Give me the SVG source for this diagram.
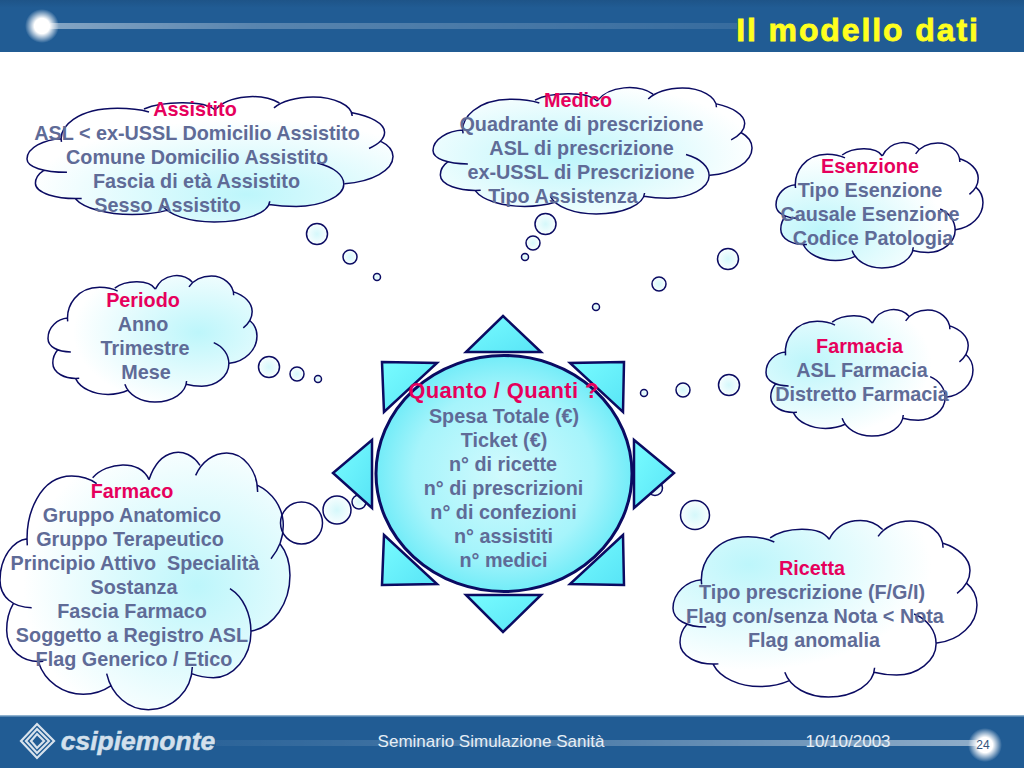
<svg xmlns="http://www.w3.org/2000/svg" width="1024" height="768" viewBox="0 0 1024 768">
<style>
text{font-family:"Liberation Sans",Arial,sans-serif;font-weight:bold;text-anchor:middle;font-size:19.800px;fill:#5f6b97}
text.h{fill:#e6005c}
.cs{fill:none;stroke:#0b0b62;stroke-width:1.5}
.b{fill:url(#bub);stroke:#0b0b62;stroke-width:1.5}
.t{fill:url(#tri);stroke:#0b0b62;stroke-width:2.5;stroke-linejoin:miter}
.foot{font-weight:normal;fill:#e6eef6;font-size:17px}
</style>
<defs>
<path id="cloudFill" d="M82,295C75,220 120,107 215,107C245,107 265,112 278,112C320,65 420,55 447,118C480,20 560,15 600,75L587,105C605,65 640,38 680,38C730,38 773,90 773,155L773,135C815,155 850,200 850,255C850,300 830,335 813,355L840,310C860,335 870,370 870,405C870,490 820,560 755,572L753,575C753,650 700,712 640,712C615,712 595,708 575,700L577,680C575,750 520,808 445,808C385,808 335,765 320,700L335,735C310,752 280,762 250,762C190,762 135,725 115,665L130,663C70,670 20,630 20,570C20,535 28,510 40,490L95,502C40,502 0,470 0,420C0,350 40,300 82,295Z"/>
<path id="cloudLine" vector-effect="non-scaling-stroke" d="M82,315C75,220 120,107 215,107C245,107 270,115 290,130M278,112C320,65 420,55 447,118M447,118C480,20 560,15 600,75M587,105C605,65 640,38 680,38C730,38 773,90 773,155M773,135C815,155 850,200 850,255C850,300 830,335 813,355M840,310C860,335 870,370 870,405C870,490 820,560 755,572M690,445C730,470 753,520 753,575C753,650 700,712 640,712C615,712 595,708 575,700M577,680C575,750 520,808 445,808C385,808 335,765 320,700M335,735C310,752 280,762 250,762C190,762 135,725 115,665M130,663C70,670 20,630 20,570C20,535 28,510 40,490M95,502C40,502 0,470 0,420C0,350 40,300 82,295"/>
<radialGradient id="g0" cx=".55" cy=".55" r=".6"><stop offset="0" stop-color="#bdf6fb"/><stop offset="1" stop-color="#fff"/></radialGradient>
<radialGradient id="gAss" href="#g0" cx=".6" cy=".78"/>
<radialGradient id="gMed" href="#g0" cx=".42" cy=".55"/>
<radialGradient id="gEse" href="#g0" cx=".22" cy=".7"/>
<radialGradient id="gFar" href="#g0" cx=".2" cy=".42"/>
<radialGradient id="gRic" href="#g0" cx=".25" cy=".25"/>
<radialGradient id="gPer" href="#g0" cx=".72" cy=".45"/>
<radialGradient id="gFco" href="#g0" cx=".68" cy=".52"/>
<radialGradient id="bub" cx=".5" cy=".5" r=".6"><stop offset="0" stop-color="#d5f8fb"/><stop offset="1" stop-color="#fff"/></radialGradient>
<radialGradient id="core2" cx=".5" cy=".5" r=".5"><stop offset="0" stop-color="#d2fafd"/><stop offset=".7" stop-color="#a6f4fb"/><stop offset="1" stop-color="#72ecf8"/></radialGradient>
<linearGradient id="tri" x1="0" y1="0" x2="1" y2="1"><stop offset="0" stop-color="#78fcff"/><stop offset="1" stop-color="#58e4f6"/></linearGradient>
<linearGradient id="bar" x1="0" y1="0" x2="0" y2="1"><stop offset="0" stop-color="#1e5488"/><stop offset=".15" stop-color="#215c94"/><stop offset="1" stop-color="#215c94"/></linearGradient>
<linearGradient id="ln1" x1="0" y1="0" x2="1" y2="0"><stop offset="0" stop-color="#fff" stop-opacity=".45"/><stop offset=".3" stop-color="#fff" stop-opacity=".25"/><stop offset="1" stop-color="#fff" stop-opacity=".1"/></linearGradient>
<linearGradient id="ln2" x1="0" y1="0" x2="1" y2="0"><stop offset="0" stop-color="#fff" stop-opacity=".05"/><stop offset=".5" stop-color="#fff" stop-opacity=".22"/><stop offset="1" stop-color="#fff" stop-opacity=".5"/></linearGradient>
<radialGradient id="glow" cx=".5" cy=".5" r=".5"><stop offset="0" stop-color="#fff"/><stop offset=".45" stop-color="#fff"/><stop offset="1" stop-color="#fff" stop-opacity="0"/></radialGradient>
</defs>
<rect width="1024" height="768" fill="#fff"/>
<g id="header">
<rect width="1024" height="52" fill="url(#bar)"/>
<rect x="50" y="23" width="687" height="6" fill="url(#ln1)"/>
<circle cx="42" cy="26" r="17" fill="url(#glow)"/>
<text x="858" y="41" style="font-size:32px;letter-spacing:1.9px;fill:#ffff1e;stroke:#ffff1e;stroke-width:.8">Il modello dati</text>
</g>
<g id="footer">
<rect y="715" width="1024" height="53" fill="#215c94"/>
<rect y="715" width="1024" height="1.5" fill="#8fb2cf"/>
<rect x="216" y="740" width="765" height="6" fill="url(#ln2)"/>
<g fill="none" stroke="#d8e2ec" stroke-width="2.200">
<path d="M37,724L54,741L37,758L21,741Z"/><path d="M37,729L49,741L37,753L26,741Z"/><path d="M37,734L44,741L37,748L31,741Z"/>
</g>
<text x="138" y="750" style="font-size:26.500px;font-style:italic;fill:#d3e0ec;stroke:#d3e0ec;stroke-width:.5">csipiemonte</text>
<text x="491" y="747"><tspan class="foot">Seminario Simulazione Sanità</tspan></text>
<text x="848" y="747"><tspan class="foot">10/10/2003</tspan></text>
<circle cx="985" cy="745" r="17" fill="url(#glow)"/>
<text x="983" y="749" style="font-size:12px;font-weight:normal;fill:#34557c">24</text>
</g>
<g id="node-assistito">
<use href="#cloudFill" fill="url(#gAss)" transform="translate(27,97) scale(.4207,.1623) translate(0,-38)"/>
<use href="#cloudLine" class="cs" transform="translate(27,97) scale(.4207,.1623) translate(0,-38)"/>
<text class="h" x="195" y="116">Assistito</text>
<text x="197" y="140">ASL &lt; ex-USSL Domicilio Assistito</text>
<text x="197" y="164">Comune Domicilio Assistito</text>
<text x="196.500" y="188">Fascia di età Assistito</text>
<text x="167.500" y="212">Sesso Assistito</text>
</g>
<g id="node-medico">
<use href="#cloudFill" fill="url(#gMed)" transform="translate(433,88) scale(.3667,.1636) translate(0,-38)"/>
<use href="#cloudLine" class="cs" transform="translate(433,88) scale(.3667,.1636) translate(0,-38)"/>
<text class="h" x="578" y="107">Medico</text>
<text x="581.500" y="131">Quadrante di prescrizione</text>
<text x="581.500" y="155">ASL di prescrizione</text>
<text x="581" y="179">ex-USSL di Prescrizione</text>
<text x="563" y="203">Tipo Assistenza</text>
</g>
<g id="node-esenzione">
<use href="#cloudFill" fill="url(#gEse)" transform="translate(776,143) scale(.2379,.1623) translate(0,-38)"/>
<use href="#cloudLine" class="cs" transform="translate(776,143) scale(.2379,.1623) translate(0,-38)"/>
<text class="h" x="870" y="173">Esenzione</text>
<text x="870" y="197">Tipo Esenzione</text>
<text x="870" y="221">Causale Esenzione</text>
<text x="873" y="245">Codice Patologia</text>
</g>
<g id="node-periodo">
<use href="#cloudFill" fill="url(#gPer)" transform="translate(48,276) scale(.2402,.1636) translate(0,-38)"/>
<use href="#cloudLine" class="cs" transform="translate(48,276) scale(.2402,.1636) translate(0,-38)"/>
<text class="h" x="143" y="307">Periodo</text>
<text x="143" y="331">Anno</text>
<text x="145" y="355">Trimestre</text>
<text x="146" y="379">Mese</text>
</g>
<g id="node-farmacia">
<use href="#cloudFill" fill="url(#gFar)" transform="translate(766,310) scale(.2379,.1636) translate(0,-38)"/>
<use href="#cloudLine" class="cs" transform="translate(766,310) scale(.2379,.1636) translate(0,-38)"/>
<text class="h" x="859.500" y="353">Farmacia</text>
<text x="862" y="377">ASL Farmacia</text>
<text x="862" y="401">Distretto Farmacia</text>
</g>
<g id="node-ricetta">
<use href="#cloudFill" fill="url(#gRic)" transform="translate(673,521) scale(.3494,.2286) translate(0,-38)"/>
<use href="#cloudLine" class="cs" transform="translate(673,521) scale(.3494,.2286) translate(0,-38)"/>
<text class="h" x="812" y="575">Ricetta</text>
<text x="812" y="599">Tipo prescrizione (F/G/I)</text>
<text x="815" y="623">Flag con/senza Nota &lt; Nota</text>
<text x="814" y="647">Flag anomalia</text>
</g>
<g id="node-farmaco">
<use href="#cloudFill" fill="url(#gFco)" transform="translate(0,453) scale(.3333,.3333) translate(0,-38)"/>
<use href="#cloudLine" class="cs" transform="translate(0,453) scale(.3333,.3333) translate(0,-38)"/>
<text class="h" x="132" y="498">Farmaco</text>
<text x="132" y="522">Gruppo Anatomico</text>
<text x="130" y="546">Gruppo Terapeutico</text>
<text x="135" y="570" xml:space="preserve">Principio Attivo  Specialità</text>
<text x="134" y="594">Sostanza</text>
<text x="132" y="618">Fascia Farmaco</text>
<text x="132" y="642">Soggetto a Registro ASL</text>
<text x="134" y="666">Flag Generico / Etico</text>
</g>
<g id="connectors">
<circle class="b" cx="317" cy="234" r="10.500"/><circle class="b" cx="350" cy="257" r="7"/><circle class="b" cx="377" cy="277" r="3.500"/>
<circle class="b" cx="545.500" cy="224" r="10.500"/><circle class="b" cx="533" cy="243" r="7"/><circle class="b" cx="525" cy="257" r="3.500"/>
<circle class="b" cx="728" cy="259" r="10.500"/><circle class="b" cx="659" cy="284" r="7"/><circle class="b" cx="596" cy="307" r="3.500"/>
<circle class="b" cx="729" cy="385" r="10.500"/><circle class="b" cx="683" cy="390" r="7"/><circle class="b" cx="644" cy="393" r="3.500"/>
<circle class="b" cx="695" cy="515" r="14.500"/><circle class="b" cx="655" cy="488" r="7.500"/>
<circle class="b" cx="301.500" cy="523" r="21" style="fill:none"/><circle class="b" cx="337" cy="510" r="14"/><circle class="b" cx="359" cy="502" r="7"/>
<circle class="b" cx="269" cy="367" r="10.500"/><circle class="b" cx="297" cy="374" r="7"/><circle class="b" cx="318" cy="379" r="3.500"/>
</g>
<g id="node-quanto">
<polygon class="t" points="503,316 541,352 466,352"/>
<polygon class="t" points="466,595 541,595 503,632"/>
<polygon class="t" points="372,440 372,508 333,473"/>
<polygon class="t" points="634,440 634,508 674,473"/>
<polygon class="t" points="382,362 437,363 384,412"/>
<polygon class="t" points="624,362 570,363 623,412"/>
<polygon class="t" points="384,535 437,584 382,585"/>
<polygon class="t" points="623,535 570,584 624,585"/>
<ellipse cx="504" cy="473.500" rx="128" ry="118" fill="url(#core2)" stroke="#0b0b62" stroke-width="3"/>
<text class="h" x="503.500" y="398" style="font-size:22px;letter-spacing:.35px">Quanto / Quanti ?</text>
<text x="504" y="423">Spesa Totale (€)</text>
<text x="504" y="447">Ticket (€)</text>
<text x="503" y="471">n° di ricette</text>
<text x="503.500" y="495">n° di prescrizioni</text>
<text x="503.500" y="519">n° di confezioni</text>
<text x="503.500" y="543">n° assistiti</text>
<text x="503.500" y="567">n° medici</text>
</g>
</svg>
